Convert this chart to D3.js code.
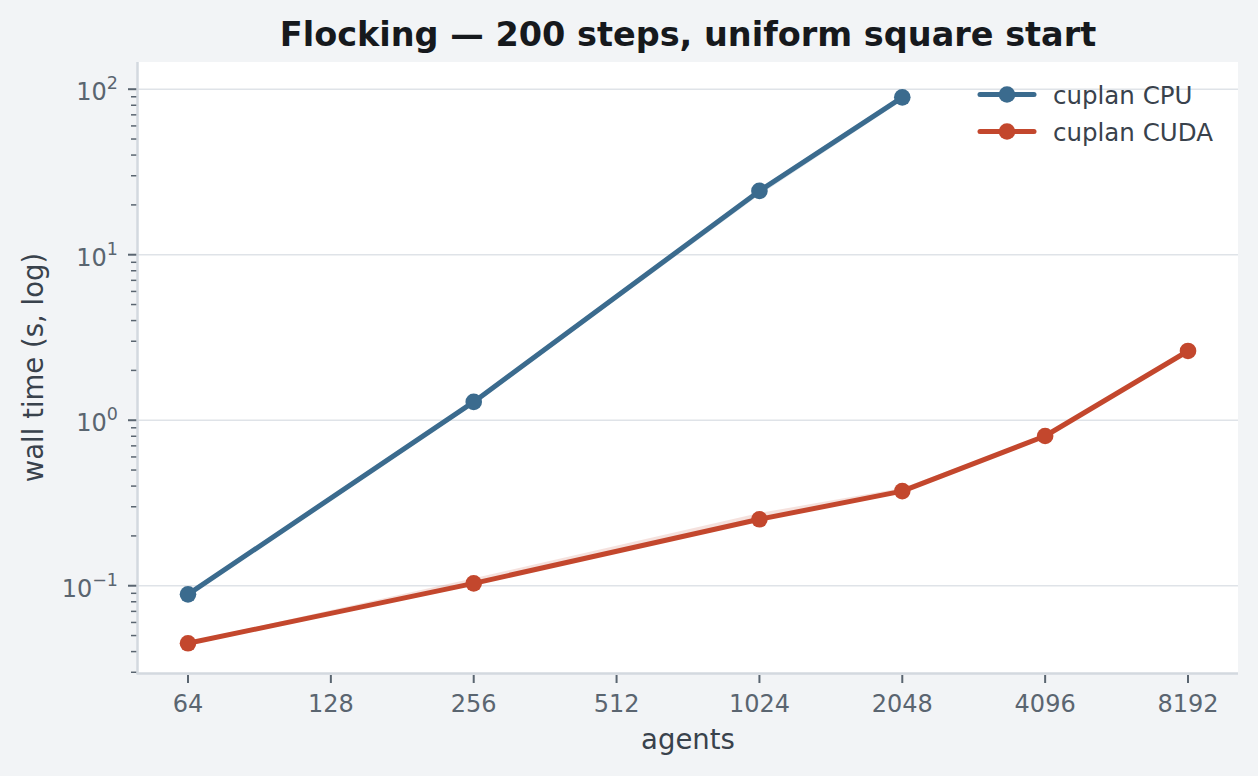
<!DOCTYPE html>
<html>
<head>
<meta charset="utf-8">
<script src="https://cdn.jsdelivr.net/npm/d3@7"></script>
<style>
  html, body { margin: 0; padding: 0; background: #f2f4f6; }
  svg { display: block; font-family: "DejaVu Sans", sans-serif; }
</style>
</head>
<body>
<svg id="chart" width="1258" height="776"></svg>
<script>
// agents counts on the x axis (log2)
const xTicks = [64, 128, 256, 512, 1024, 2048, 4096, 8192];
const yTicks = [0.1, 1, 10, 100];
const yExponents = ["\u22121", "0", "1", "2"];

const cpuAgents = [64, 256, 1024, 2048];
const cpuTime = [0.0887, 1.29, 24.3, 89.3];
const cpuLow = [0.0876, 1.25, 23.0, 85.5];
const cpuHigh = [0.0897, 1.31, 24.8, 91.5];

const cudaAgents = [64, 256, 1024, 2048, 4096, 8192];
const cudaTime = [0.0449, 0.1034, 0.252, 0.373, 0.803, 2.62];
const cudaLow = [0.0442, 0.1025, 0.249, 0.370, 0.796, 2.59];
const cudaHigh = [0.0458, 0.111, 0.275, 0.389, 0.815, 2.66];

const seriesNames = ["cuplan CPU", "cuplan CUDA"];
const seriesColors = ["#3b6b8e", "#c3472d"];

const W = 1258, H = 776;
const margin = { top: 62, right: 20, bottom: 103, left: 138 };
const innerW = W - margin.left - margin.right;
const innerH = H - margin.top - margin.bottom;

const svg = d3.select("#chart");

const x = d3.scaleLog().base(2)
  .domain([Math.pow(2, 5.65), Math.pow(2, 13.35)])
  .range([0, innerW]);
const y = d3.scaleLog()
  .domain([0.0297, 146])
  .range([innerH, 0]);

const g = svg.append("g").attr("transform", `translate(${margin.left},${margin.top})`);

g.append("rect")
  .attr("width", innerW).attr("height", innerH)
  .attr("fill", "#ffffff");

// horizontal grid at decades
g.append("g").selectAll("line")
  .data(yTicks)
  .join("line")
  .attr("x1", 0).attr("x2", innerW)
  .attr("y1", d => y(d)).attr("y2", d => y(d))
  .attr("stroke", "#dfe3e8")
  .attr("stroke-width", 1.6);

function makeSeries(xs, mid, lo, hi) {
  return xs.map((n, i) => ({ n, mid: mid[i], lo: lo[i], hi: hi[i] }));
}
const series = [
  makeSeries(cpuAgents, cpuTime, cpuLow, cpuHigh),
  makeSeries(cudaAgents, cudaTime, cudaLow, cudaHigh)
];

const area = d3.area()
  .x(d => x(d.n))
  .y0(d => y(d.lo))
  .y1(d => y(d.hi));
const line = d3.line()
  .x(d => x(d.n))
  .y(d => y(d.mid));

series.forEach((s, i) => {
  g.append("path")
    .datum(s)
    .attr("d", area)
    .attr("fill", seriesColors[i])
    .attr("fill-opacity", 0.16);
});

series.forEach((s, i) => {
  g.append("path")
    .datum(s)
    .attr("d", line)
    .attr("fill", "none")
    .attr("stroke", seriesColors[i])
    .attr("stroke-width", 5)
    .attr("stroke-linejoin", "round");
  g.append("g").selectAll("circle")
    .data(s)
    .join("circle")
    .attr("cx", d => x(d.n))
    .attr("cy", d => y(d.mid))
    .attr("r", 8.3)
    .attr("fill", seriesColors[i]);
});

// y axis: major + minor ticks
const tickColor = "#5a6570";
const minorTicks = [];
for (let e = -2; e <= 2; e++) {
  for (let m = 2; m <= 9; m++) {
    const v = m * Math.pow(10, e);
    if (v >= y.domain()[0] && v <= y.domain()[1]) minorTicks.push(v);
  }
}
const yAxisG = g.append("g");
yAxisG.selectAll("line.minor")
  .data(minorTicks)
  .join("line")
  .attr("class", "minor")
  .attr("x1", -7).attr("x2", -1)
  .attr("y1", d => y(d)).attr("y2", d => y(d))
  .attr("stroke", tickColor).attr("stroke-width", 1.5);
yAxisG.selectAll("line.major")
  .data(yTicks)
  .join("line")
  .attr("class", "major")
  .attr("x1", -10).attr("x2", -1)
  .attr("y1", d => y(d)).attr("y2", d => y(d))
  .attr("stroke", tickColor).attr("stroke-width", 2);
const yLab = yAxisG.selectAll("text")
  .data(yTicks)
  .join("text")
  .attr("x", -20)
  .attr("y", d => y(d) + 11)
  .attr("text-anchor", "end")
  .attr("fill", tickColor)
  .attr("font-size", 24);
yLab.append("tspan").text("10");
yLab.append("tspan")
  .attr("dy", -11)
  .attr("font-size", 17.5)
  .text((d, i) => yExponents[i]);

// x axis
const xAxisG = g.append("g").attr("transform", `translate(0,${innerH})`);
xAxisG.selectAll("line")
  .data(xTicks)
  .join("line")
  .attr("x1", d => x(d)).attr("x2", d => x(d))
  .attr("y1", 2).attr("y2", 10)
  .attr("stroke", tickColor).attr("stroke-width", 2);
xAxisG.selectAll("text")
  .data(xTicks)
  .join("text")
  .attr("x", d => x(d))
  .attr("y", 39)
  .attr("text-anchor", "middle")
  .attr("fill", tickColor)
  .attr("font-size", 24)
  .text(d => d);

// spines
g.append("line")
  .attr("x1", -0.5).attr("x2", -0.5).attr("y1", 0).attr("y2", innerH + 1)
  .attr("stroke", "#d3d9df").attr("stroke-width", 2.5);
g.append("line")
  .attr("x1", -1.5).attr("x2", innerW).attr("y1", innerH + 0.5).attr("y2", innerH + 0.5)
  .attr("stroke", "#d3d9df").attr("stroke-width", 2.5);

// labels
svg.append("text")
  .attr("x", margin.left + innerW / 2)
  .attr("y", 749)
  .attr("text-anchor", "middle")
  .attr("fill", "#39424c")
  .attr("font-size", 27.5)
  .text("agents");
svg.append("text")
  .attr("transform", `translate(43,${margin.top + innerH / 2}) rotate(-90)`)
  .attr("text-anchor", "middle")
  .attr("fill", "#39424c")
  .attr("font-size", 27.5)
  .text("wall time (s, log)");
svg.append("text")
  .attr("x", margin.left + innerW / 2)
  .attr("y", 46)
  .attr("text-anchor", "middle")
  .attr("fill", "#16191d")
  .attr("font-size", 33.5)
  .attr("font-weight", "bold")
  .text("Flocking \u2014 200 steps, uniform square start");

// legend
const legend = svg.append("g").attr("transform", "translate(980,94.5)");
seriesNames.forEach((name, i) => {
  const row = legend.append("g").attr("transform", `translate(0,${i * 37})`);
  row.append("line")
    .attr("x1", 0).attr("x2", 54)
    .attr("stroke", seriesColors[i]).attr("stroke-width", 5)
    .attr("stroke-linecap", "round");
  row.append("circle")
    .attr("cx", 27).attr("r", 8.3)
    .attr("fill", seriesColors[i]);
  row.append("text")
    .attr("x", 73).attr("y", 9)
    .attr("fill", "#39424c")
    .attr("font-size", 24.5)
    .text(name);
});
</script>
</body>
</html>
